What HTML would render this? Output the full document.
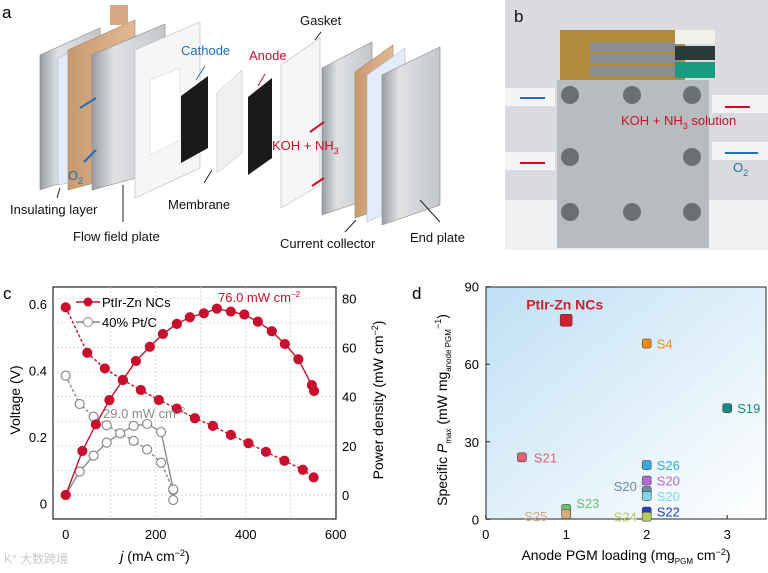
<!DOCTYPE html>
<html><head><meta charset="utf-8"><style>
body{margin:0;background:#fff;width:768px;height:573px;overflow:hidden;font-family:"Liberation Sans","Noto Sans CJK SC",sans-serif}
svg{position:absolute;left:0;top:0}
text{font-family:"Liberation Sans","Noto Sans CJK SC",sans-serif}
</style></head><body>
<svg id="fig" width="768" height="573" viewBox="0 0 768 573">
<defs>
<linearGradient id="metal" x1="0" x2="1"><stop offset="0" stop-color="#9a9ea3"/><stop offset="0.3" stop-color="#dfe1e3"/><stop offset="1" stop-color="#c4c7ca"/></linearGradient>
<linearGradient id="copper" x1="0" x2="1"><stop offset="0" stop-color="#c99a70"/><stop offset="1" stop-color="#e2b994"/></linearGradient>
<linearGradient id="dbg" x1="0" y1="0" x2="1" y2="1"><stop offset="0" stop-color="#bfe0f4"/><stop offset="0.6" stop-color="#e6f3fb"/><stop offset="1" stop-color="#ffffff"/></linearGradient>
</defs>
<!-- Panel a -->
<g>
<text x="2" y="18" font-size="17">a</text>
<polygon points="40,55 100,28 100,170 40,190" fill="url(#metal)" stroke="#888" stroke-width="0.6"/>
<polygon points="58,58 110,34 110,175 58,185" fill="#e4ecfb" stroke="#aab" stroke-width="0.5"/>
<polygon points="68,50 135,20 135,172 68,190" fill="url(#copper)" stroke="#a9825e" stroke-width="0.6"/>
<rect x="110" y="5" width="18" height="20" fill="#d6a982"/>
<polygon points="92,55 165,24 165,170 92,190" fill="url(#metal)" stroke="#888" stroke-width="0.6"/>
<polygon points="135,50 200,22 200,168 135,198" fill="#f6f6f6" stroke="#bbb" stroke-width="0.6"/>
<polygon points="150,80 180,68 180,140 150,155" fill="#fff" stroke="#ccc" stroke-width="0.5"/>
<polygon points="181,96 208,76 208,148 181,163" fill="#1a1a1a"/>
<polygon points="217,93 242,70 242,153 217,173" fill="#f0f0f0" stroke="#bbb" stroke-width="0.5"/>
<polygon points="248,97 272,78 272,158 248,175" fill="#1a1a1a"/>
<polygon points="281,65 320,38 320,185 281,208" fill="#f6f6f6" stroke="#bbb" stroke-width="0.6"/>
<polygon points="322,68 372,42 372,198 322,215" fill="url(#metal)" stroke="#888" stroke-width="0.6"/>
<polygon points="355,72 393,45 393,205 355,218" fill="url(#copper)" stroke="#a9825e" stroke-width="0.6"/>
<polygon points="367,75 405,48 405,205 367,222" fill="#e4ecfb" stroke="#aab" stroke-width="0.5"/>
<polygon points="382,75 440,47 440,205 382,225" fill="url(#metal)" stroke="#888" stroke-width="0.6"/>
<g stroke="#1f6fb8" stroke-width="2" fill="#1f6fb8"><line x1="96" y1="98" x2="80" y2="108"/><line x1="84" y1="162" x2="96" y2="150"/></g>
<g stroke="#c8102e" stroke-width="2"><line x1="310" y1="132" x2="324" y2="122"/><line x1="324" y1="178" x2="312" y2="186"/></g>
<g stroke="#222" stroke-width="1"><line x1="60" y1="188" x2="57" y2="198"/><line x1="123" y1="185" x2="123" y2="222"/><line x1="204" y1="183" x2="212" y2="170"/><line x1="315" y1="40" x2="321" y2="32"/><line x1="356" y1="220" x2="345" y2="232"/><line x1="420" y1="200" x2="440" y2="222"/></g>
<line x1="196" y1="80" x2="205" y2="66" stroke="#1f6fb8" stroke-width="1"/>
<line x1="258" y1="86" x2="265" y2="74" stroke="#c8102e" stroke-width="1"/>
<g font-size="13" fill="#111">
<text x="10" y="214">Insulating layer</text>
<text x="73" y="241">Flow field plate</text>
<text x="168" y="209">Membrane</text>
<text x="300" y="25">Gasket</text>
<text x="280" y="248">Current collector</text>
<text x="410" y="242">End plate</text>
</g>
<text x="181" y="55" font-size="13" fill="#1f6fb8">Cathode</text>
<text x="249" y="60" font-size="13" fill="#c8102e">Anode</text>
<text x="272" y="150" font-size="13" fill="#c8102e">KOH + NH<tspan font-size="9" dy="4">3</tspan></text>
<text x="68" y="180" font-size="13" fill="#1f6fb8">O<tspan font-size="9" dy="4">2</tspan></text>
</g>
<!-- Panel b -->
<g>
<rect x="505" y="0" width="263" height="250" fill="#d9dbde"/>
<rect x="505" y="200" width="263" height="50" fill="#eef0f2"/>
<rect x="560" y="30" width="125" height="52" fill="#b08a3c"/>
<rect x="590" y="42" width="90" height="10" fill="#8a8d90"/><rect x="590" y="54" width="90" height="10" fill="#8a8d90"/><rect x="590" y="66" width="90" height="10" fill="#8a8d90"/>
<rect x="675" y="30" width="40" height="14" fill="#f2f0ea"/><rect x="675" y="46" width="40" height="14" fill="#2b3a38"/><rect x="675" y="62" width="40" height="16" fill="#1a9a7e"/>
<rect x="557" y="80" width="152" height="168" fill="#b9bcbf"/>
<g fill="#6b6e72">
<circle cx="570" cy="95" r="9"/><circle cx="632" cy="95" r="9"/><circle cx="692" cy="95" r="9"/>
<circle cx="570" cy="157" r="9"/><circle cx="692" cy="157" r="9"/>
<circle cx="570" cy="212" r="9"/><circle cx="632" cy="212" r="9"/><circle cx="692" cy="212" r="9"/>
</g>
<rect x="505" y="88" width="50" height="18" fill="#f4f4f4"/><rect x="505" y="152" width="50" height="18" fill="#f4f4f4"/>
<rect x="712" y="95" width="56" height="18" fill="#f4f4f4"/><rect x="712" y="142" width="56" height="18" fill="#f4f4f4"/>
<line x1="545" y1="98" x2="520" y2="98" stroke="#1f6fb8" stroke-width="2"/>
<line x1="545" y1="163" x2="520" y2="163" stroke="#c8102e" stroke-width="2"/>
<line x1="750" y1="107" x2="725" y2="107" stroke="#c8102e" stroke-width="2"/>
<line x1="758" y1="153" x2="725" y2="153" stroke="#1f6fb8" stroke-width="2"/>
<text x="514" y="22" font-size="17" fill="#111">b</text>
<text x="621" y="125" font-size="13" fill="#c8102e">KOH + NH<tspan font-size="9" dy="4">3</tspan><tspan dy="-4"> solution</tspan></text>
<text x="733" y="172" font-size="13" fill="#1f6fb8">O<tspan font-size="9" dy="4">2</tspan></text>
</g>
<g id="chartC"></g>
<g id="chartD"></g>
</svg>
<script>
// ---- Chart c data ----
const ptirJ = [0,48,87,127,167,207,247,287,327,367,406,445,486,527,551];
const ptirV = [0.59,0.453,0.406,0.371,0.341,0.311,0.285,0.256,0.233,0.206,0.181,0.155,0.128,0.101,0.078];
const ptirPJ = [0,37,67,97,127,156,187,216,247,276,307,336,367,397,427,458,487,517,547,552];
const ptirP = [0,17.9,28.7,38.6,46.8,54.5,60.3,65.5,69.6,72.3,73.9,75.8,74.6,73.4,70.5,66.6,61.4,55.2,44.7,42.3];
const ptcJ = [0,31,62,91,151,181,212,239,239];
const ptcV = [0.384,0.299,0.261,0.235,0.188,0.162,0.122,0.040,0.010];
const ptcPJ = [0,31,62,91,121,151,181,212,239];
const ptcP = [0,9.5,16.0,21.3,25.1,28.1,28.9,25.6,2.3];
const cXTicks = [0,200,400,600];
const cVTicks = [0,0.2,0.4,0.6];
const cPTicks = [0,20,40,60,80];
// ---- Chart d data ----
const dLabels = ["PtIr-Zn NCs","S4","S19","S21","S26","S20","S20","S20","S22","S24","S23","S25"];
const dX = [1,2,3,0.45,2,2,2,2,2,2,1,1];
const dY = [77,68,43,24,21,15,11,9,3,1,4,2];
const dColors = ["#d0202f","#f08a1c","#178a80","#e06070","#3aa8e0","#b866d0","#6a8ab0","#7dd6e6","#1740c8","#b8c860","#6cc070","#d8a878"];
const dXTicks = [0,1,2,3];
const dYTicks = [0,30,60,90];

const NS="http://www.w3.org/2000/svg";
function mk(p,tag,attrs){const e=document.createElementNS(NS,tag);for(const k in attrs)e.setAttribute(k,attrs[k]);p.appendChild(e);return e;}

// chart c
const C=document.getElementById('chartC');
const cx=j=>65.7+j*(270/600), cyV=v=>503.3-v*(199.3/0.6), cyP=p=>495-p*(196.7/80);
mk(C,'rect',{x:53,y:287,width:283,height:232,fill:'#fff',stroke:'#222','stroke-width':1.2});
for(let g=100;g<600;g+=100){const l=mk(C,'line',{x1:cx(g),x2:cx(g),y1:287,y2:519,stroke:'#ccc','stroke-dasharray':'2,2','stroke-width':0.7});}
for(let p=0;p<=80;p+=10){const l=mk(C,'line',{x1:53,x2:336,y1:cyP(p),y2:cyP(p),stroke:'#ccc','stroke-dasharray':'2,2','stroke-width':0.7});}
cXTicks.forEach(t=>{const e=mk(C,'text',{x:cx(t),y:539,'font-size':13,'text-anchor':'middle'});e.textContent=t;});
cVTicks.forEach(t=>{const e=mk(C,'text',{x:47,y:cyV(t)+5,'font-size':13,'text-anchor':'end'});e.textContent=t===0?'0':t.toFixed(1);});
cPTicks.forEach(t=>{const e=mk(C,'text',{x:342,y:cyP(t)+5,'font-size':13});e.textContent=t;});
function series(xs,ys,fy,color,dash,filled,name){
  const pts=xs.map((x,i)=>cx(x)+','+fy(ys[i])).join(' ');
  const l=mk(C,'polyline',{points:pts,fill:'none',stroke:color,'stroke-width':1.4,'stroke-dasharray':dash});
  
  xs.forEach((x,i)=>{const c=mk(C,'circle',{cx:cx(x),cy:fy(ys[i]),r:4.5,fill:filled?color:'#fff',stroke:color,'stroke-width':1.2});});
}
series(ptcJ,ptcV,cyV,'#8a8a8a','3,2',false,'ptc-voltage');
series(ptcPJ,ptcP,cyP,'#8a8a8a','',false,'ptc-power');
series(ptirJ,ptirV,cyV,'#c8102e','3,2',true,'ptir-voltage');
series(ptirPJ,ptirP,cyP,'#c8102e','',true,'ptir-power');
let t;
t=mk(C,'text',{x:3,y:299,'font-size':17});t.textContent='c';
t=mk(C,'text',{x:218,y:302,'font-size':13,fill:'#c8102e'});t.innerHTML='76.0 mW cm<tspan font-size="8" dy="-5">−2</tspan>';
t=mk(C,'text',{x:103,y:418,'font-size':13,fill:'#8a8a8a'});t.innerHTML='29.0 mW cm<tspan font-size="8" dy="-5">−2</tspan>';
let lg=mk(C,'g',{});
mk(lg,'line',{x1:76,x2:100,y1:302,y2:302,stroke:'#c8102e','stroke-width':1.4});mk(lg,'circle',{cx:88,cy:302,r:4.5,fill:'#c8102e'});
t=mk(lg,'text',{x:102,y:307,'font-size':13});t.textContent='PtIr-Zn NCs';
mk(lg,'line',{x1:76,x2:100,y1:322,y2:322,stroke:'#8a8a8a','stroke-width':1.4});mk(lg,'circle',{cx:88,cy:322,r:4.5,fill:'#fff',stroke:'#8a8a8a'});
t=mk(lg,'text',{x:102,y:327,'font-size':13});t.textContent='40% Pt/C';
t=mk(C,'text',{x:155,y:561,'font-size':14,'text-anchor':'middle'});t.innerHTML='<tspan font-style="italic">j</tspan> (mA cm<tspan font-size="9" dy="-5">−2</tspan><tspan dy="5">)</tspan>';
t=mk(C,'text',{x:0,y:0,'font-size':14,'text-anchor':'middle',transform:'translate(20,400) rotate(-90)'});t.textContent='Voltage (V)';
t=mk(C,'text',{x:0,y:0,'font-size':14,'text-anchor':'middle',transform:'translate(383,400) rotate(-90)'});t.innerHTML='Power density (mW cm<tspan font-size="9" dy="-5">−2</tspan><tspan dy="5">)</tspan>';
t=mk(C,'text',{x:4,y:563,'font-size':12,fill:'#c8c8c8'});t.textContent='K° 大数跨境';

// chart d
const D=document.getElementById('chartD');
const dx=v=>485.7+v*80.5, dy=v=>519.3-v*(232.6/90);
mk(D,'rect',{x:486,y:287,width:280,height:232,fill:'url(#dbg)',stroke:'#222','stroke-width':1});
dXTicks.forEach(v=>{const e=mk(D,'text',{x:dx(v),y:539,'font-size':13,'text-anchor':'middle'});e.textContent=v;
 mk(D,'line',{x1:dx(v),x2:dx(v),y1:519,y2:515,stroke:'#222'});});
dYTicks.forEach(v=>{const e=mk(D,'text',{x:479,y:dy(v)+5,'font-size':13,'text-anchor':'end'});e.textContent=v;
 mk(D,'line',{x1:486,x2:490,y1:dy(v),y2:dy(v),stroke:'#222'});});
const labOff={0:[-40,-12],3:[12,4],9:[-33,4],10:[10,-2],11:[-42,6],6:[-33,-1]};
dX.forEach((x,i)=>{
 const s=i===0?12:9;
 const r=mk(D,'rect',{x:dx(x)-s/2,y:dy(dY[i])-s/2,width:s,height:s,rx:2,fill:dColors[i],stroke:'#444','stroke-width':0.6});
 
 const o=labOff[i]||[10,4];
 const e=mk(D,'text',{x:dx(x)+o[0],y:dy(dY[i])+o[1]+1,'font-size':i===0?14:13,fill:dColors[i],'font-weight':i===0?'bold':'normal'});
 e.textContent=dLabels[i];
});
t=mk(D,'text',{x:412,y:299,'font-size':17});t.textContent='d';
t=mk(D,'text',{x:626,y:560,'font-size':14,'text-anchor':'middle'});t.innerHTML='Anode PGM loading (mg<tspan font-size="8" dy="4">PGM</tspan><tspan dy="-4"> cm</tspan><tspan font-size="9" dy="-5">−2</tspan><tspan dy="5">)</tspan>';
t=mk(D,'text',{x:0,y:0,'font-size':14,'text-anchor':'middle',transform:'translate(447,410) rotate(-90)'});t.innerHTML='Specific <tspan font-style="italic">P</tspan><tspan font-size="8" dy="4">max</tspan><tspan dy="-4"> (mW mg</tspan><tspan font-size="8" dy="4">anode PGM</tspan><tspan font-size="9" dy="-10">−1</tspan><tspan dy="6">)</tspan>';
</script>
</body></html>
